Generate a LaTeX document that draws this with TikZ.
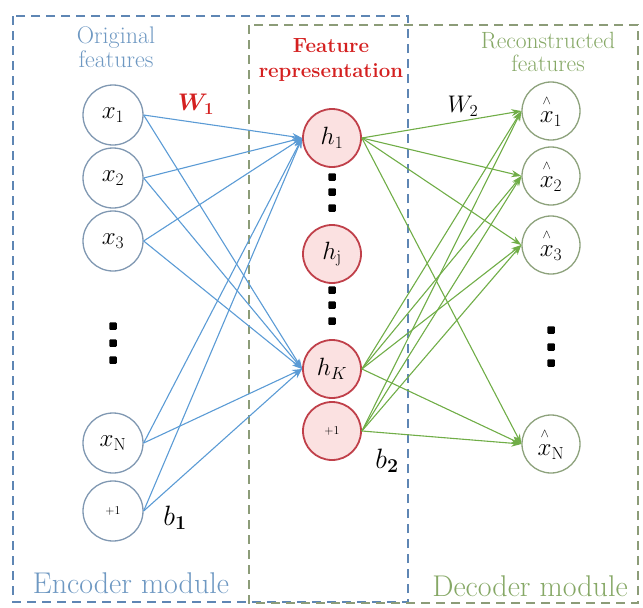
\RequirePackage{fix-cm}
\documentclass[tikz,border=0pt]{standalone}
\usepackage{amsmath}
\usetikzlibrary{arrows.meta}
\definecolor{encblue}{HTML}{5B9BD5}
\definecolor{boxblue}{HTML}{5E86B4}
\definecolor{txtblue}{HTML}{6E98C2}
\definecolor{decgreen}{HTML}{70AD47}
\definecolor{boxgreen}{HTML}{8C9C78}
\definecolor{txtgreen}{HTML}{86A866}
\definecolor{redtxt}{HTML}{D42020}
\definecolor{redline}{HTML}{C0404A}
\definecolor{redfill}{HTML}{FBE1E1}
\definecolor{leftline}{HTML}{8098B2}
\definecolor{rightline}{HTML}{8DA27C}
\newcommand{\xhat}{\overset{\raisebox{2.5pt}{$\scriptscriptstyle\wedge$}}{x}}
\tikzset{
  fs/.style={font=\fontsize{#1}{#1}\selectfont},
  inode/.style={circle, draw=leftline, line width=1.3pt, fill=white, minimum size=60pt, inner sep=0pt, fs=25},
  hnode/.style={circle, draw=redline, line width=1.8pt, fill=redfill, minimum size=58pt, inner sep=0pt, fs=25},
  onode/.style={circle, draw=rightline, line width=1.3pt, fill=white, minimum size=58pt, inner sep=0pt, fs=25},
  enc/.style={draw=encblue, line width=1.1pt, -{Stealth[length=10pt,width=7pt]}},
  dec/.style={draw=decgreen, line width=1.1pt, -{Stealth[length=10pt,width=7pt]}},
  dotn/.style={rectangle, rounded corners=1pt, fill=black, minimum size=7.5pt, inner sep=0pt},
  bluebox/.style={draw=boxblue, line width=2.2pt, dash pattern=on 9pt off 6pt},
  greenbox/.style={draw=boxgreen, line width=2.2pt, dash pattern=on 9pt off 6pt},
  lab/.style={inner sep=0pt, fs=#1},
}
\begin{document}
\begin{tikzpicture}[x=1pt,y=-1pt]
\useasboundingbox (0,0) rectangle (643,608);
% module boxes
\draw[bluebox] (13,16) rectangle (408,602);
\draw[greenbox] (249,25) rectangle (638,603);
% input nodes
\node[inode] (x1) at (113,115) {$x_1$};
\node[inode] (x2) at (113,178) {$x_2$};
\node[inode] (x3) at (113,241) {$x_3$};
\node[inode] (xN) at (113,443) {$x_{\mathrm{N}}$};
\node[inode, fs=12] (bx) at (113,511) {+1};
\node[dotn] (ld1) at (113,326) {};
\node[dotn] (ld2) at (113,343) {};
\node[dotn] (ld3) at (113,360) {};
% hidden nodes
\node[hnode] (h1) at (332,138) {$h_1$};
\node[hnode] (hj) at (332,254) {$h_{\mathrm{j}}$};
\node[hnode] (hK) at (332,369) {$h_K$};
\node[hnode, fs=12] (hb) at (332,431) {+1};
\node[dotn] (md1) at (332,177) {};
\node[dotn] (md2) at (332,192) {};
\node[dotn] (md3) at (332,208) {};
\node[dotn] (md4) at (332,290) {};
\node[dotn] (md5) at (332,305) {};
\node[dotn] (md6) at (332,321) {};
% output nodes
\node[onode] (y1) at (551,111) {$\xhat_1$};
\node[onode] (y2) at (551,176) {$\xhat_2$};
\node[onode] (y3) at (551,245) {$\xhat_3$};
\node[onode] (yN) at (551,444) {$\xhat_{\mathrm{N}}$};
\node[dotn] (rd1) at (551,330) {};
\node[dotn] (rd2) at (551,347) {};
\node[dotn] (rd3) at (551,363) {};
% connectors
\foreach \s in {x1,x2,x3,xN,bx}{
  \foreach \t in {h1,hK}{
    \draw[enc] (\s.east) -- (\t.west);
  }
}
\foreach \s in {h1,hK,hb}{
  \foreach \t in {y1,y2,y3,yN}{
    \draw[dec] (\s.east) -- (\t.west);
  }
}
% labels
\node[lab=24, text=txtblue, align=center] (orig) at (116,47) {Original\\[0pt]features};
\node[lab=20, text=redtxt, align=center, font=\bfseries\fontsize{20.5}{20}\selectfont] (frep) at (331,60) {Feature\\[5pt]representation};
\node[lab=23.5, text=txtgreen, align=center] (recf) at (548,52) {Reconstructed\\[0pt]features};
\node[lab=24, text=redtxt] (w1) at (196,104) {$\boldsymbol{W_1}$};
\node[lab=24] (w2) at (463,106) {$W_2$};
\node[lab=28] (b1) at (175,518) {$b_{\mathbf{1}}$};
\node[lab=28] (b2) at (387,461) {$b_{\mathbf{2}}$};
\node[lab=30, text=txtblue] (encm) at (131,583) {Encoder module};
\node[lab=30, text=txtgreen] (decm) at (530,586) {Decoder module};
\end{tikzpicture}
\end{document}
